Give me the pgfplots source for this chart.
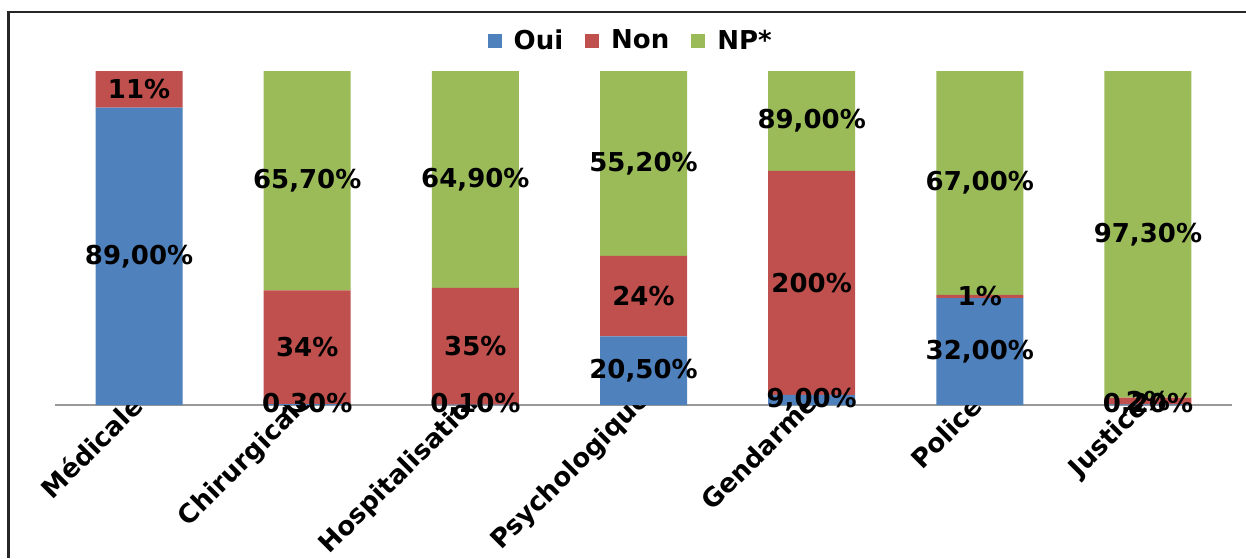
\documentclass[border=0pt]{standalone}
\usepackage{pgfplots}
\pgfplotsset{compat=1.18}
\usepackage{fontspec}
\setmainfont{DejaVu Sans}
\definecolor{cOui}{HTML}{4F81BD}
\definecolor{cNon}{HTML}{C0504D}
\definecolor{cNP}{HTML}{9BBB59}
\newcommand{\lfont}{\fontsize{13}{15}\selectfont\bfseries}
\begin{document}
\begin{tikzpicture}
\path[use as bounding box] (0pt,0pt) rectangle (623pt,-279pt);
\draw[line width=1.1pt, black!85] (4.25pt,-279pt) -- (4.25pt,-6pt) -- (623pt,-6pt);
\begin{axis}[
  at={(27.5pt,-202.5pt)}, anchor=south west,
  scale only axis, width=588.5pt, height=167pt,
  ybar stacked, bar width=43.5pt,
  xmin=-0.5, xmax=6.5, ymin=0, ymax=100,
  axis x line*=bottom, axis y line=none,
  x axis line style={-, draw=gray!80, line width=0.8pt},
  xtick={0,1,2,3,4,5,6},
  xticklabels={Médicale,Chirurgicale\hspace*{-2.8pt},Hospitalisation\hspace*{-5.3pt},Psychologique\hspace*{-3.2pt},Gendarme\hspace*{-1.8pt},Police\hspace*{0.5pt},Justice\hspace*{2pt}},
  major tick length=0pt,
  xticklabel style={yshift=3pt, rotate=45, anchor=east, font=\lfont, inner sep=1pt},
  nodes near coords, point meta=explicit symbolic,
  every node near coord/.append style={anchor=center, font=\lfont, text=black},
  legend style={at={(0.49,1.09)}, anchor=center, draw=none, legend columns=-1,
     font=\lfont, /tikz/every odd column/.append style={column sep=4pt},
     /tikz/every even column/.append style={column sep=9pt}},
  legend image code/.code={\fill[#1,draw=none] (0pt,-3.5pt) rectangle (7pt,3.5pt);},
  clip=false,
]
% bar heights: values normalised to 100% per category; labels: the original values
\addplot[fill=cOui, draw=none] table[x=x, y=y, meta=l] {
x y l
0 89.00 {89,00\%}
1 0.30 {0,30\%}
2 0.10 {0,10\%}
3 20.56 {20,50\%}
4 3.02 {9,00\%}
5 32.00 {32,00\%}
6 0.20 {0,20\%}
};
\addplot[fill=cNon, draw=none] table[x=x, y=y, meta=l] {
x y l
0 11.00 {11\%}
1 34.00 {34\%}
2 35.00 {35\%}
3 24.07 {24\%}
4 67.11 {200\%}
5 1.00 {1\%}
6 2.01 {2\%}
};
\addplot[fill=cNP, draw=none] table[x=x, y=y, meta=l] {
x y l
0 0.00 {}
1 65.70 {65,70\%}
2 64.90 {64,90\%}
3 55.37 {55,20\%}
4 29.87 {89,00\%}
5 67.00 {67,00\%}
6 97.79 {97,30\%}
};
\legend{Oui,Non,NP*}
\end{axis}
\end{tikzpicture}
\end{document}
